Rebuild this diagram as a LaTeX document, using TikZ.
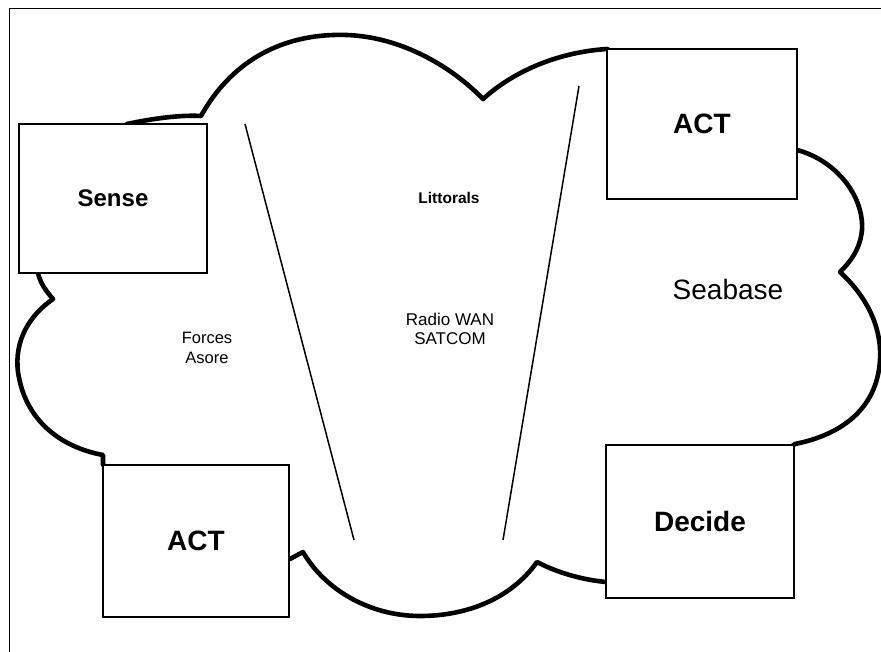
\documentclass[tikz,border=0pt]{standalone}
\usepackage{fontspec}
\setmainfont{Liberation Sans}
\begin{document}
\begin{tikzpicture}[x=1pt,y=-1pt,
  frame/.style={line width=1.6pt},
  cloud/.style={line width=4.6pt, line join=round},
  box/.style={draw, fill=white, line width=1.5pt, inner sep=0pt},
  divider/.style={line width=1.5pt},
  lbl/.style={align=center, inner sep=0pt}]
\useasboundingbox (0,0) rectangle (881,652);
% partial frame (top and left)
\draw[frame] (9.5,652) -- (9.5,8.5) -- (881,8.5);
% cloud outline
\draw[cloud] (127,124) .. controls (160,117) and (185,115) .. (201,116)
 .. controls (235,55) and (290,33) .. (347,35)
 .. controls (400,37) and (450,65) .. (483,99)
 .. controls (515,70) and (560,52) .. (607,49)
 -- (797,150)
 .. controls (835,160) and (864,195) .. (862,230)
 .. controls (860,250) and (850,262) .. (840,272)
 .. controls (865,295) and (882,325) .. (880,360)
 .. controls (877,410) and (840,435) .. (795,444)
 -- (606,582)
 .. controls (585,580) and (560,574) .. (537,562)
 .. controls (510,600) and (465,616) .. (420,616)
 .. controls (370,616) and (325,590) .. (303,552)
 -- (290,559)
 -- (103,465) -- (103,455)
 .. controls (60,447) and (25,420) .. (18,372)
 .. controls (14,340) and (30,315) .. (53,299)
 .. controls (45,290) and (40,282) .. (38,273)
 -- cycle;
% boxes
\node[box, minimum width=188pt, minimum height=149pt,
  font=\fontsize{24}{28}\selectfont\bfseries] (sense) at (113,198.5) {Sense};
\node[box, minimum width=190pt, minimum height=150pt,
  font=\fontsize{28}{32}\selectfont\bfseries] (acttop) at (702,124) {ACT};
\node[box, minimum width=186pt, minimum height=152pt,
  font=\fontsize{28}{32}\selectfont\bfseries] (actbot) at (196,541) {ACT};
\node[box, minimum width=188pt, minimum height=153pt,
  font=\fontsize{28}{32}\selectfont\bfseries] (decide) at (700,521.5) {Decide};
% dividers
\coordinate (l1) at (245,124);
\coordinate (l2) at (354,540);
\coordinate (r1) at (579,86);
\coordinate (r2) at (503,540);
\draw[divider] (l1) -- (l2);
\draw[divider] (r1) -- (r2);
% labels
\node[lbl, font=\fontsize{15.5}{18}\selectfont\bfseries] (littorals) at (449,197.5) {Littorals};
\node[lbl, font=\fontsize{17}{19.5}\selectfont] (radio) at (450,329) {Radio WAN\\SATCOM};
\node[lbl, font=\fontsize{16.5}{20}\selectfont] (forces) at (207,348) {Forces\\Asore};
\node[lbl, font=\fontsize{28}{32}\selectfont] (seabase) at (728,289) {Seabase};
\end{tikzpicture}
\end{document}
